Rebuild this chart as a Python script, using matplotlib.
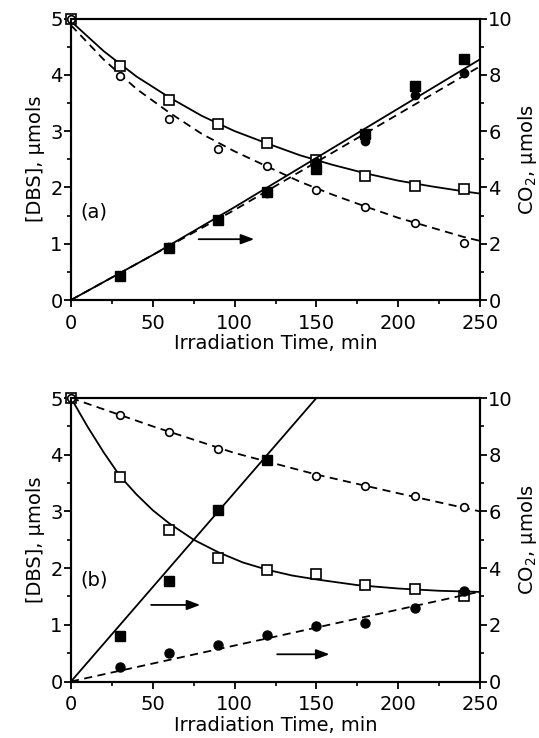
import matplotlib
matplotlib.use("Agg")
import matplotlib.pyplot as plt
from matplotlib.ticker import MultipleLocator

plt.rcParams['font.family'] = ['DejaVu Sans']
plt.rcParams['mathtext.fontset'] = 'dejavusans'

# ---------------- data ----------------
t_pts = [0, 30, 60, 90, 120, 150, 180, 210, 240]
t_co2 = [30, 60, 90, 120, 150, 180, 210, 240]

# Panel (a)
a_sq_open = [5.0, 4.15, 3.55, 3.12, 2.78, 2.48, 2.2, 2.02, 1.98]
a_ci_open = [5.0, 3.98, 3.22, 2.68, 2.38, 1.96, 1.66, 1.36, 1.02]
a_sq_fill = [0.85, 1.85, 2.85, 3.85, 4.65, 5.9, 7.6, 8.55]
a_ci_fill = [0.85, 1.9, 2.85, 3.8, 4.9, 5.65, 7.3, 8.05]
t_a_curve = [0, 20, 40, 60, 80, 100, 120, 140, 160, 180, 200, 220, 240, 250]
a_sq_curve = [4.95, 4.42, 3.97, 3.6, 3.27, 3.0, 2.78, 2.57, 2.4, 2.25, 2.12, 2.02, 1.93, 1.89]
a_ci_curve = [4.88, 4.27, 3.75, 3.33, 2.95, 2.64, 2.37, 2.1, 1.87, 1.66, 1.46, 1.29, 1.12, 1.05]
t_line = [0, 50, 100, 150, 200, 250]
a_sq_co2_line = [0, 1.6, 3.3, 5.05, 6.8, 8.55]
a_ci_co2_line = [0, 1.6, 3.2, 4.9, 6.6, 8.3]

# Panel (b)
b_sq_open = [5.0, 3.6, 2.67, 2.18, 1.96, 1.9, 1.7, 1.63, 1.5]
b_ci_open = [5.0, 4.7, 4.4, 4.1, 3.9, 3.62, 3.44, 3.28, 3.08]
t_b_sq_fill = [30, 60, 90, 120]
b_sq_fill = [1.6, 3.55, 6.05, 7.8]
b_ci_fill = [0.5, 1.0, 1.27, 1.65, 1.97, 2.07, 2.6, 3.2]
t_b_sq_curve = [0, 10, 20, 30, 40, 50, 60, 75, 90, 105, 120, 135, 150, 175, 200, 225, 250]
b_sq_curve = [5.0, 4.5, 4.04, 3.62, 3.3, 3.02, 2.79, 2.5, 2.28, 2.1, 1.97, 1.87, 1.8, 1.7, 1.64, 1.6, 1.58]
t_b_ci_curve = [0, 50, 100, 150, 200, 250]
b_ci_curve = [5.0, 4.5, 4.03, 3.65, 3.32, 3.0]
t_b_sq_co2_line = [0, 150]
b_sq_co2_line = [0, 10.0]
t_b_ci_co2_line = [0, 250]
b_ci_co2_line = [0, 3.17]

# ---------------- figure ----------------
fig = plt.figure(figsize=(5.39, 7.38), dpi=100)
W, H = 539, 738
left, right = 71, 480
axA = fig.add_axes([left / W, 1 - 300 / H, (right - left) / W, 281.5 / H])
axB = fig.add_axes([left / W, 1 - 681.5 / H, (right - left) / W, 283.5 / H])

LW = 1.3
MS_SQ = 6.5
MS_CI = 5.5
dash = (0, (4.5, 3))


def style(ax, ax2):
    ax.set_xlim(0, 250)
    ax.set_ylim(0, 5)
    ax2.set_ylim(0, 10)
    ax.xaxis.set_major_locator(MultipleLocator(50))
    ax.xaxis.set_minor_locator(MultipleLocator(25))
    ax.yaxis.set_major_locator(MultipleLocator(1))
    ax.yaxis.set_minor_locator(MultipleLocator(0.5))
    ax2.yaxis.set_major_locator(MultipleLocator(2))
    ax2.yaxis.set_minor_locator(MultipleLocator(1))
    for a in (ax, ax2):
        for s in a.spines.values():
            s.set_linewidth(1.5)
    ax.tick_params(axis='y', which='major', direction='out', length=5, width=1.3,
                   labelsize=14, pad=1)
    ax.tick_params(axis='x', which='major', direction='out', length=5, width=1.3,
                   labelsize=14, pad=5, top=False)
    ax.tick_params(axis='both', which='minor', direction='out', length=3, width=1.2, top=False)
    ax2.tick_params(axis='y', which='major', direction='out', length=5, width=1.3,
                    labelsize=14, pad=1)
    ax2.tick_params(axis='y', which='minor', direction='out', length=3, width=1.2)
    ax.set_xlabel('Irradiation Time, min', fontsize=14, labelpad=1)
    ax.set_ylabel('[DBS], µmols', fontsize=14, labelpad=4)
    ax2.set_ylabel('CO$_2$, µmols', fontsize=14, labelpad=2)


def arrow(ax, x0, x1, y):
    ax.annotate('', xy=(x1, y), xytext=(x0, y),
                arrowprops=dict(arrowstyle='-|>,head_length=0.8,head_width=0.3',
                                color='black', lw=1.3, shrinkA=0, shrinkB=0))


# ---- panel (a)
axA2 = axA.twinx()
style(axA, axA2)
axA.plot(t_a_curve, a_sq_curve, '-', color='black', lw=LW)
axA.plot(t_a_curve, a_ci_curve, color='black', lw=LW, linestyle=dash)
axA.plot(t_pts, a_sq_open, 's', ms=MS_SQ, mfc='white', mec='black', mew=1.2, clip_on=False, zorder=4)
axA.plot(t_pts, a_ci_open, 'o', ms=MS_CI, mfc='white', mec='black', mew=1.2, clip_on=False, zorder=4)
axA2.plot(t_line, a_ci_co2_line, color='black', lw=LW, linestyle=dash)
axA2.plot(t_line, a_sq_co2_line, '-', color='black', lw=LW)
axA2.plot(t_co2, a_ci_fill, 'o', ms=MS_CI + 0.5, color='black', clip_on=False)
axA2.plot(t_co2, a_sq_fill, 's', ms=MS_SQ, color='black', clip_on=False)
arrow(axA, 78, 112, 1.08)
axA.text(5.5, 1.57, '(a)', fontsize=14, va='center', ha='left')

# ---- panel (b)
axB2 = axB.twinx()
style(axB, axB2)
axB.plot(t_b_sq_curve, b_sq_curve, '-', color='black', lw=LW)
axB.plot(t_b_ci_curve, b_ci_curve, color='black', lw=LW, linestyle=dash)
axB.plot(t_pts, b_sq_open, 's', ms=MS_SQ, mfc='white', mec='black', mew=1.2, clip_on=False, zorder=4)
axB.plot(t_pts, b_ci_open, 'o', ms=MS_CI, mfc='white', mec='black', mew=1.2, clip_on=False, zorder=4)
axB2.plot(t_b_sq_co2_line, b_sq_co2_line, '-', color='black', lw=LW)
axB2.plot(t_b_ci_co2_line, b_ci_co2_line, color='black', lw=LW, linestyle=dash)
axB2.plot(t_co2, b_ci_fill, 'o', ms=MS_CI + 1, color='black', clip_on=False)
axB2.plot(t_b_sq_fill, b_sq_fill, 's', ms=MS_SQ, color='black', clip_on=False)
arrow(axB, 49, 79, 1.35)
arrow(axB, 126, 158, 0.48)
axB.text(5.5, 1.79, '(b)', fontsize=14, va='center', ha='left')

fig.savefig('out.png', dpi=100)
